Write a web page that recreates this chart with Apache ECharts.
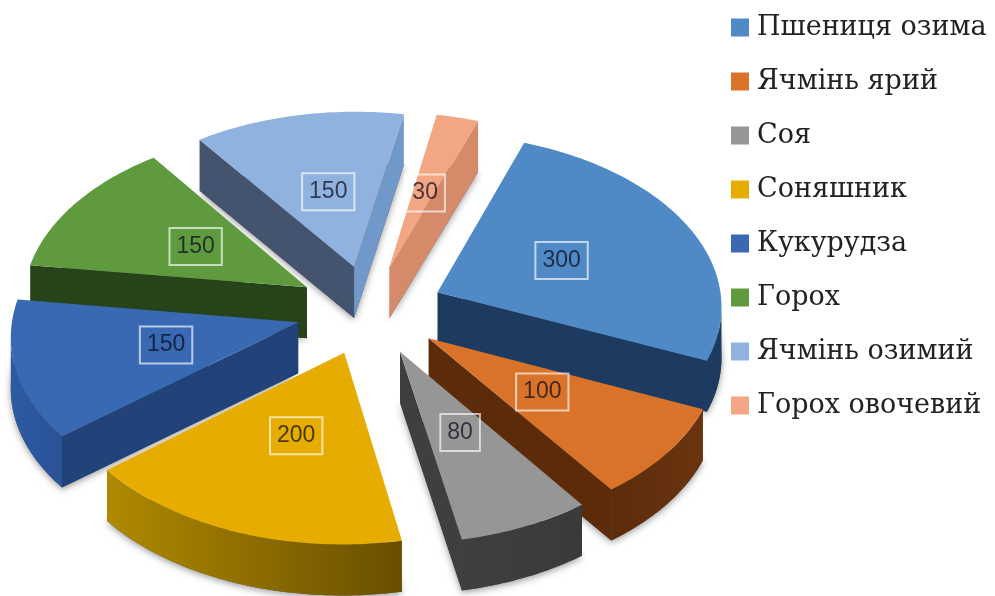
<!DOCTYPE html>
<html><head><meta charset="utf-8">
<style>html,body{margin:0;padding:0;background:#fff}#c{width:995px;height:596px;filter:blur(0.6px)}</style>
<script src="https://cdn.jsdelivr.net/npm/echarts@6/dist/echarts.min.js"></script>
</head><body><div id="c"></div>
<script>
const categories=['Пшениця озима','Ячмінь ярий','Соя','Соняшник','Кукурудза','Горох','Ячмінь озимий','Горох овочевий'];
const values=[300,100,80,200,150,150,150,30];
const topColors=['#4f8ac6','#d9732a','#969696','#e6ac00','#3869b2','#5f9b3e','#8fb2df','#f3a683'];
const startWalls=['#1d3a60','#5c2c0a','#3f3f3f','#6f5200','#22427a','#27431a','#44546e','#e09a78'];
const endWalls=['#1d3a60','#5c2c0a','#3f3f3f','#6f5200','#22427a','#27431a','#7099c9','#d58a6a'];
const outerWalls=[
  ['#1d3a60','#1d3a60'],['#5c2c0a','#6b3410'],['#3f3f3f','#3a3a3a'],['#b08a00','#6a4e00'],
  ['#2d5aa3','#2a5296'],['#27431a','#27431a'],['#7099c9','#7099c9'],['#d58a6a','#d58a6a']];
const startAngle=20, CX=370, CY=310, A=285, B=172, K=0.07, EX=0.26, DEPTH=51, LR=0.48;
const total=values.reduce((a,b)=>a+b,0);
const rad=d=>d*Math.PI/180;
let cum=startAngle;
const spans=values.map(v=>{const a0=cum;cum+=v/total*360;return [a0,cum];});
function makeRender(i){
  const [a0,a1]=spans[i], mid=rad((a0+a1)/2);
  const ox=EX*Math.sin(mid), oy=EX*Math.cos(mid);
  const P=(r,deg,low)=>{
    const X=ox+r*Math.sin(rad(deg)), Y=oy+r*Math.cos(rad(deg));
    const s=1/(1+K*Y);
    return [CX+A*X*s, CY-B*Y*s+(low?DEPTH:0)];
  };
  return function(params,api){
    const arc=[],arcLow=[];
    const n=Math.max(6,Math.ceil(a1-a0));
    for(let j=0;j<=n;j++){const d=a0+(a1-a0)*j/n;arc.push(P(1,d,false));arcLow.push(P(1,d,true));}
    const ap=P(0,0,false), apL=P(0,0,true);
    const poly=(pts,fill,extra)=>({type:'polygon',shape:{points:pts},style:Object.assign({fill:fill},extra||{})});
    const sh={shadowBlur:7,shadowColor:'rgba(0,0,0,0.4)',shadowOffsetY:2};
    const grad={type:'linear',x:0,y:0,x2:1,y2:0,colorStops:[{offset:0,color:outerWalls[i][0]},{offset:1,color:outerWalls[i][1]}]};
    const lab=P(LR,(a0+a1)/2,false);
    const kids=[poly([apL].concat(arcLow),'#555',sh)];
    if(arc[0][0]<ap[0]) kids.push(poly([ap,arc[0],arcLow[0],apL],startWalls[i]));
    if(ap[0]<arc[n][0]) kids.push(poly([ap,arc[n],arcLow[n],apL],endWalls[i]));
    let first=-1,last=-1;
    for(let j=0;j<n;j++){ if(arc[j+1][0]<arc[j][0]){ if(first<0) first=j; last=j+1; } }
    if(first>=0){
      const up=arc.slice(first,last+1), dn=arcLow.slice(first,last+1).reverse();
      kids.push(poly(up.concat(dn),grad));
    }
    kids.push(poly([ap].concat(arc),api.visual('color')));
    kids.push({type:'text',z2:10,style:{text:String(api.value(0)),x:lab[0]+2,y:lab[1],align:'center',verticalAlign:'middle',
        font:'23px "Liberation Sans"',fill:'rgba(10,10,25,0.72)',padding:[7,7,7,7],borderColor:'rgba(255,255,255,0.65)',borderWidth:2}});
    return {type:'group',children:kids};
  };
}
const series=categories.map((name,i)=>{
  const m=rad((spans[i][0]+spans[i][1])/2);
  return {type:'custom',name:name,coordinateSystem:'none',z:Math.round(100*(1-Math.cos(m)))+2,
    silent:true,animation:false,itemStyle:{color:topColors[i]},data:[[values[i]]],renderItem:makeRender(i)};
});
const chart=echarts.init(document.getElementById('c'),null,{renderer:'canvas'});
chart.setOption({animation:false,
  legend:{orient:'vertical',left:726,top:4,itemWidth:18,itemHeight:18,itemGap:17,icon:'rect',selectedMode:false,
    data:categories,textStyle:{color:'#222',fontFamily:'"DejaVu Serif"',fontSize:27,lineHeight:33,padding:[4,0,0,3]}},
  series:series});
</script></body></html>
